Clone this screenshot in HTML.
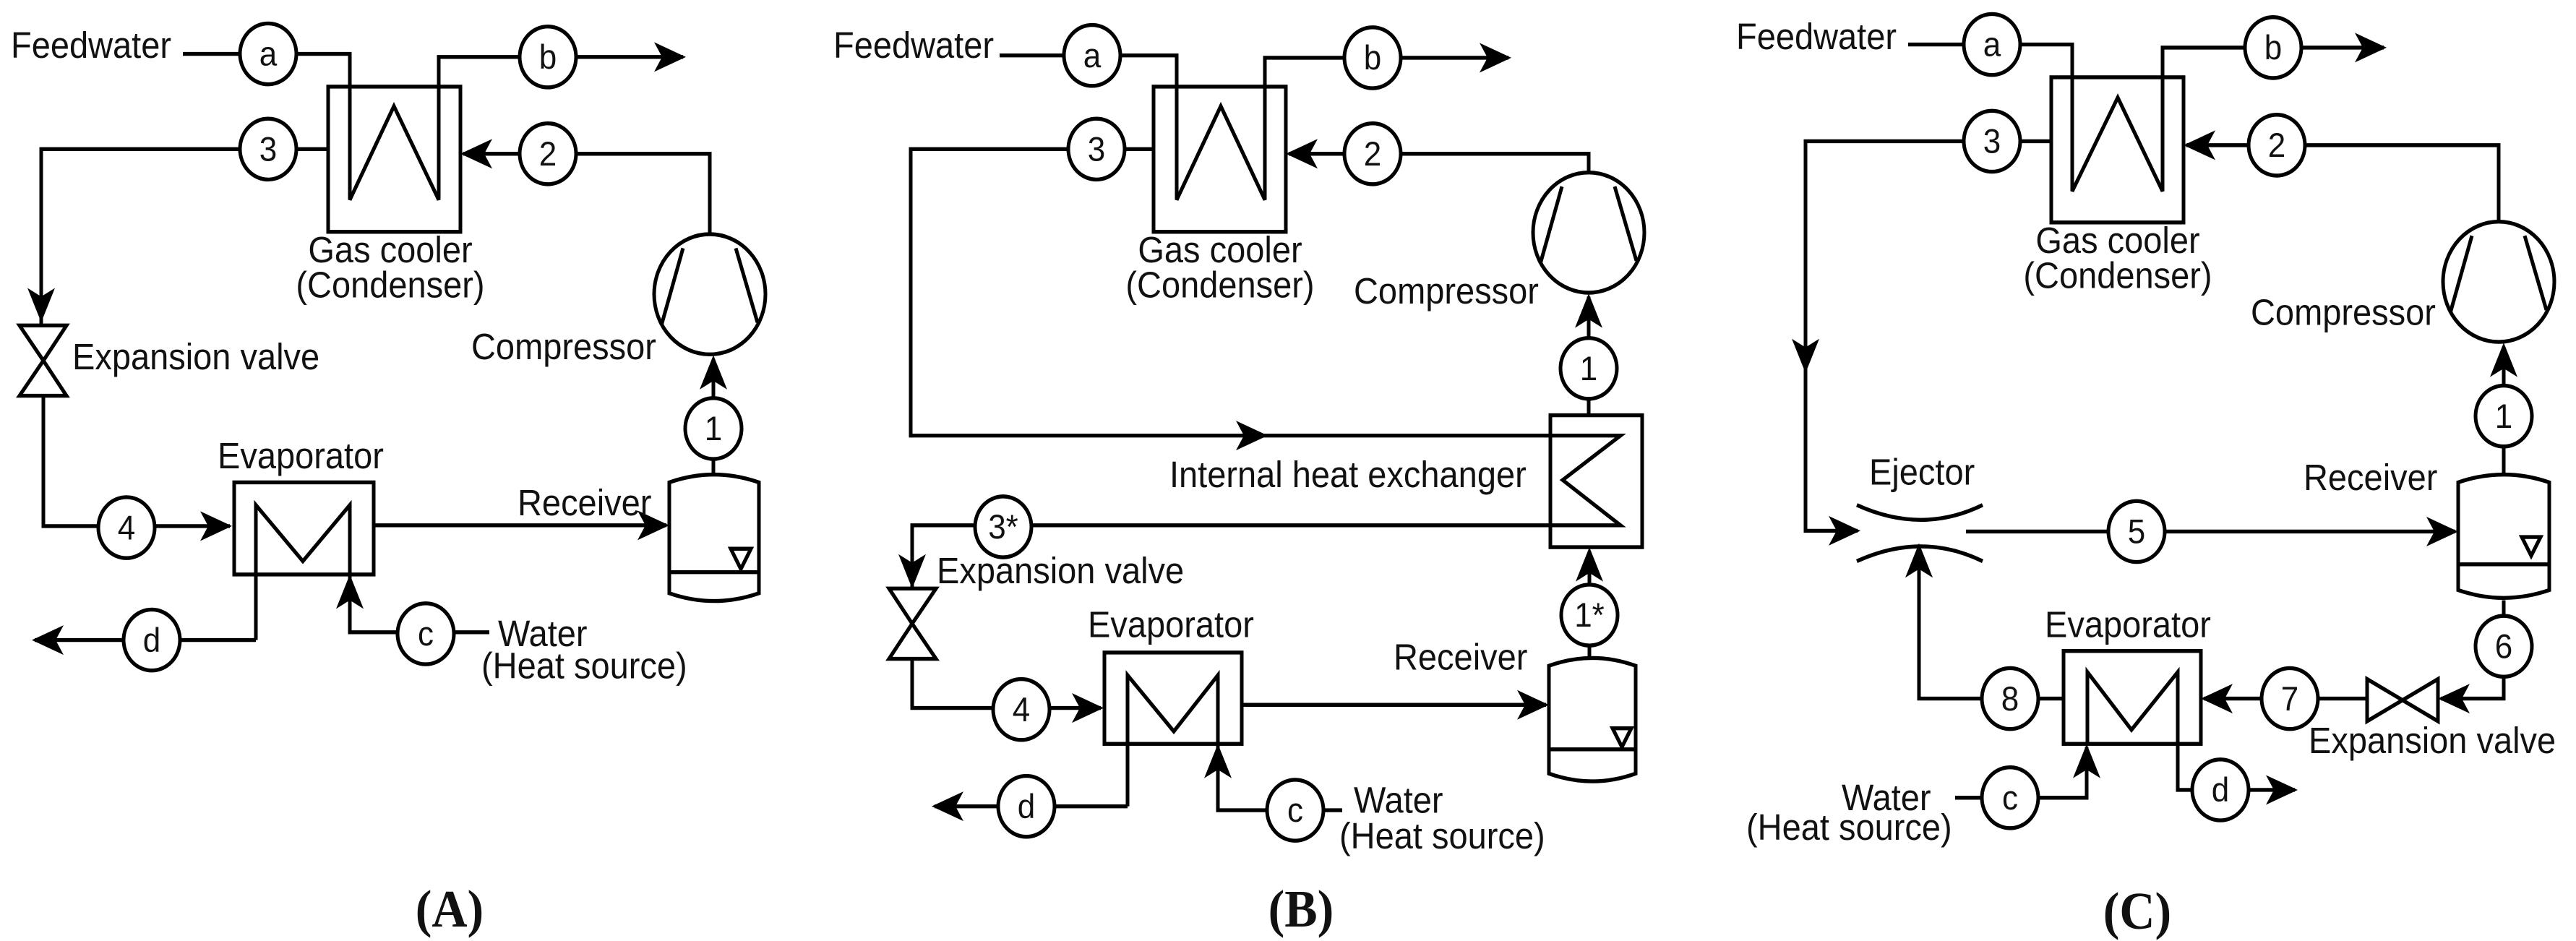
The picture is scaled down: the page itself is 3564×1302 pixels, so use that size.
<!DOCTYPE html>
<html><head><meta charset="utf-8"><style>
html,body{margin:0;padding:0;background:#fff;}
svg{display:block;}
text{font-family:"Liberation Sans",Arial,sans-serif;fill:#111;}
.l{font-size:47px;}
.n{font-size:44px;text-anchor:middle;}
.t{font-family:"Liberation Serif","Times New Roman",serif;font-weight:bold;font-size:68px;text-anchor:middle;}
</style></head><body>
<svg width="3564" height="1302" viewBox="0 0 3564 1302" xmlns="http://www.w3.org/2000/svg">
<defs>
<path id="ar" d="M0,0 L-44,-19 L-33,0 L-44,19 Z" fill="#000"/>
</defs>
<rect width="3564" height="1302" fill="#fff"/>
<g transform="scale(1,1.08)">
<g fill="none" stroke="#000" stroke-width="5" stroke-linejoin="miter">
<!-- ===== A ===== -->
<polyline points="253,69 331,69"/>
<circle cx="371" cy="69" r="39"/>
<polyline points="410,69 484,69 484,256 545,136 607,256 607,73 719,73"/>
<circle cx="758" cy="73" r="39"/>
<polyline points="797,73 945,73"/>
<rect x="454" y="111" width="183" height="186"/>
<polyline points="454,191 410,191"/>
<circle cx="371" cy="191" r="39"/>
<polyline points="332,191 57,191 57,417"/>
<circle cx="758" cy="197" r="39"/>
<polyline points="719,197 641,197"/>
<polyline points="797,197 982,197 982,300"/>
<circle cx="982" cy="377" r="77"/>
<line x1="945" y1="318" x2="915" y2="417"/><line x1="1018" y1="318" x2="1048" y2="413"/>
<polyline points="987,510 987,460"/>
<circle cx="987" cy="549" r="39"/>
<polyline points="987,588 987,610"/>
<path d="M926,618 Q988,598 1050,618 L1050,760 Q988,780 926,760 Z"/>
<line x1="926" y1="733" x2="1050" y2="733"/>
<polygon points="1011,703 1039,703 1025,729"/>
<polygon points="27,417 92,417 60,462"/><polygon points="60,462 27,507 92,507"/>
<polyline points="60,507 60,674 136,674"/>
<circle cx="175" cy="676" r="39"/>
<polyline points="214,674 318,674"/>
<rect x="324" y="618" width="193" height="118"/>
<polyline points="354,820 354,647 419,719 484,647 484,810 550,810"/>
<polyline points="354,820 249,820"/>
<circle cx="210" cy="820" r="39"/>
<polyline points="171,820 48,820"/>
<circle cx="589" cy="812" r="39"/>
<polyline points="628,810 677,810"/>
<polyline points="517,673 922,673"/>
<!-- ===== B ===== -->
<polyline points="1383,71 1472,71"/>
<circle cx="1511" cy="71" r="39"/>
<polyline points="1550,71 1628,71 1628,256 1689,136 1750,256 1750,74 1860,74"/>
<circle cx="1899" cy="74" r="39"/>
<polyline points="1938,74 2087,74"/>
<rect x="1596" y="111" width="183" height="186"/>
<polyline points="1596,191 1556,191"/>
<circle cx="1517" cy="191" r="39"/>
<polyline points="1478,191 1260,191 1260,558 2242,558 2162,615 2242,673 1427,673"/>
<circle cx="1899" cy="197" r="39"/>
<polyline points="1860,197 1783,197"/>
<polyline points="1938,197 2198,197 2198,221"/>
<circle cx="2198" cy="298" r="77"/>
<line x1="2161" y1="239" x2="2131" y2="338"/><line x1="2234" y1="239" x2="2264" y2="334"/>
<polyline points="2198,433 2198,380"/>
<circle cx="2198" cy="472" r="39"/>
<polyline points="2198,511 2198,532"/>
<rect x="2145" y="532" width="127" height="169"/>
<circle cx="1388" cy="675" r="39"/>
<polyline points="1349,673 1262,673 1262,754"/>
<polygon points="1230,754 1295,754 1262,799"/><polygon points="1262,799 1230,844 1295,844"/>
<polyline points="1262,844 1262,907 1374,907"/>
<circle cx="1413" cy="909" r="39"/>
<polyline points="1452,907 1523,907"/>
<rect x="1528" y="836" width="190" height="117"/>
<polyline points="1560,1033 1560,865 1624,937 1685,865 1685,1038 1753,1038"/>
<polyline points="1560,1033 1459,1033"/>
<circle cx="1420" cy="1033" r="39"/>
<polyline points="1381,1033 1293,1033"/>
<circle cx="1792" cy="1038" r="39"/>
<polyline points="1831,1038 1857,1038"/>
<polyline points="1718,903 2139,903"/>
<path d="M2143,853 Q2203,833 2263,853 L2263,991 Q2203,1011 2143,991 Z"/>
<line x1="2143" y1="960" x2="2263" y2="960"/>
<polygon points="2231,933 2257,933 2244,957"/>
<circle cx="2199" cy="788" r="39"/>
<polyline points="2199,827 2199,842"/>
<polyline points="2199,749 2199,706"/>
<!-- ===== C ===== -->
<polyline points="2640,57 2717,57"/>
<circle cx="2756" cy="57" r="39"/>
<polyline points="2795,57 2867,57 2867,245 2930,125 2992,245 2992,61 3106,61"/>
<circle cx="3145" cy="61" r="39"/>
<polyline points="3184,61 3298,61"/>
<rect x="2838" y="99" width="183" height="186"/>
<polyline points="2838,181 2795,181"/>
<circle cx="2756" cy="181" r="39"/>
<polyline points="2717,181 2498,181 2498,680 2570,680"/>
<circle cx="3150" cy="186" r="39"/>
<polyline points="3111,186 3025,186"/>
<polyline points="3189,186 3457,186 3457,284"/>
<circle cx="3457" cy="361" r="77"/>
<line x1="3420" y1="302" x2="3390" y2="401"/><line x1="3493" y1="302" x2="3523" y2="397"/>
<polyline points="3464,494 3464,444"/>
<circle cx="3464" cy="533" r="39"/>
<polyline points="3464,572 3464,610"/>
<path d="M3401,618 Q3464,598 3527,618 L3527,756 Q3464,776 3401,756 Z"/>
<line x1="3401" y1="723" x2="3527" y2="723"/>
<polygon points="3489,688 3515,688 3502,712"/>
<path d="M2569,647 Q2659,685 2743,647"/>
<path d="M2569,719 Q2659,681 2743,719"/>
<polyline points="2720,681 2917,681"/>
<circle cx="2956" cy="681" r="39"/>
<polyline points="2995,681 3397,681"/>
<polyline points="2742,895 2655,895 2655,700"/>
<circle cx="2781" cy="895" r="39"/>
<polyline points="2820,895 2855,895"/>
<rect x="2855" y="834" width="190" height="119"/>
<polyline points="2888,953 2888,861 2949,935 3013,861 3013,1012 3033,1012"/>
<circle cx="3072" cy="1012" r="39"/>
<polyline points="3111,1012 3175,1012"/>
<polyline points="2705,1022 2742,1022"/>
<circle cx="2781" cy="1022" r="39"/>
<polyline points="2820,1022 2887,1022 2887,957"/>
<circle cx="3168" cy="895" r="39"/>
<polyline points="3129,895 3049,895"/>
<polyline points="3207,895 3275,895"/>
<polygon points="3275,870 3275,924 3324,897"/><polygon points="3324,897 3373,870 3373,924"/>
<circle cx="3464" cy="828" r="39"/>
<polyline points="3464,769 3464,789"/>
<polyline points="3464,867 3464,895 3377,895"/>
</g>
<!-- arrowheads -->
<use href="#ar" transform="translate(949,73)"/>
<use href="#ar" transform="translate(57,413) rotate(90)"/>
<use href="#ar" transform="translate(637,197) rotate(180)"/>
<use href="#ar" transform="translate(987,455) rotate(-90)"/>
<use href="#ar" transform="translate(321,674)"/>
<use href="#ar" transform="translate(44,820) rotate(180)"/>
<use href="#ar" transform="translate(484,736) rotate(-90)"/>
<use href="#ar" transform="translate(926,673)"/>

<use href="#ar" transform="translate(2091,74)"/>
<use href="#ar" transform="translate(1779,197) rotate(180)"/>
<use href="#ar" transform="translate(1754,558)"/>
<use href="#ar" transform="translate(2198,376) rotate(-90)"/>
<use href="#ar" transform="translate(1262,754) rotate(90)"/>
<use href="#ar" transform="translate(1527,907)"/>
<use href="#ar" transform="translate(1289,1033) rotate(180)"/>
<use href="#ar" transform="translate(1685,953) rotate(-90)"/>
<use href="#ar" transform="translate(2143,903)"/>
<use href="#ar" transform="translate(2199,701) rotate(-90)"/>

<use href="#ar" transform="translate(3302,61)"/>
<use href="#ar" transform="translate(3021,186) rotate(180)"/>
<use href="#ar" transform="translate(2498,478) rotate(90)"/>
<use href="#ar" transform="translate(2574,680)"/>
<use href="#ar" transform="translate(3464,439) rotate(-90)"/>
<use href="#ar" transform="translate(3401,681)"/>
<use href="#ar" transform="translate(2655,696) rotate(-90)"/>
<use href="#ar" transform="translate(3179,1012)"/>
<use href="#ar" transform="translate(2887,953) rotate(-90)"/>
<use href="#ar" transform="translate(3045,895) rotate(180)"/>
<use href="#ar" transform="translate(3373,895) rotate(180)"/>

<!-- A text -->
<text class="l" x="15" y="74">Feedwater</text>
<text class="n" x="371" y="84">a</text>
<text class="n" x="758" y="88">b</text>
<text class="n" x="371" y="206">3</text>
<text class="n" x="758" y="212">2</text>
<text class="n" x="987" y="564">1</text>
<text class="n" x="175" y="691">4</text>
<text class="n" x="210" y="835">d</text>
<text class="n" x="589" y="827">c</text>
<text class="l" x="540" y="336" text-anchor="middle">Gas cooler</text>
<text class="l" x="540" y="381" text-anchor="middle">(Condenser)</text>
<text class="l" x="652" y="460">Compressor</text>
<text class="l" x="100" y="473">Expansion valve</text>
<text class="l" x="301" y="600">Evaporator</text>
<text class="l" x="716" y="660">Receiver</text>
<text class="l" x="689" y="828">Water</text>
<text class="l" x="666" y="869">(Heat source)</text>
<text class="t" x="622" y="1187">(A)</text>
<!-- B text -->
<text class="l" x="1153" y="74">Feedwater</text>
<text class="n" x="1511" y="86">a</text>
<text class="n" x="1899" y="89">b</text>
<text class="n" x="1517" y="206">3</text>
<text class="n" x="1899" y="212">2</text>
<text class="n" x="2198" y="487">1</text>
<text class="n" x="1388" y="690">3*</text>
<text class="n" x="1413" y="924">4</text>
<text class="n" x="1420" y="1048">d</text>
<text class="n" x="1792" y="1053">c</text>
<text class="n" x="2199" y="803">1*</text>
<text class="l" x="1688" y="336" text-anchor="middle">Gas cooler</text>
<text class="l" x="1688" y="381" text-anchor="middle">(Condenser)</text>
<text class="l" x="1873" y="389">Compressor</text>
<text class="l" x="1618" y="624">Internal heat exchanger</text>
<text class="l" x="1296" y="747">Expansion valve</text>
<text class="l" x="1505" y="816">Evaporator</text>
<text class="l" x="1928" y="858">Receiver</text>
<text class="l" x="1873" y="1041">Water</text>
<text class="l" x="1853" y="1087">(Heat source)</text>
<text class="t" x="1800" y="1187">(B)</text>
<!-- C text -->
<text class="l" x="2402" y="63">Feedwater</text>
<text class="n" x="2756" y="72">a</text>
<text class="n" x="3145" y="76">b</text>
<text class="n" x="2756" y="196">3</text>
<text class="n" x="3150" y="201">2</text>
<text class="n" x="3464" y="548">1</text>
<text class="n" x="2956" y="696">5</text>
<text class="n" x="3464" y="843">6</text>
<text class="n" x="3168" y="910">7</text>
<text class="n" x="2781" y="910">8</text>
<text class="n" x="2781" y="1037">c</text>
<text class="n" x="3072" y="1027">d</text>
<text class="l" x="2930" y="324" text-anchor="middle">Gas cooler</text>
<text class="l" x="2930" y="369" text-anchor="middle">(Condenser)</text>
<text class="l" x="3114" y="416">Compressor</text>
<text class="l" x="2586" y="621">Ejector</text>
<text class="l" x="3187" y="628">Receiver</text>
<text class="l" x="2829" y="816">Evaporator</text>
<text class="l" x="3194" y="965">Expansion valve</text>
<text class="l" x="2548" y="1038">Water</text>
<text class="l" x="2416" y="1076">(Heat source)</text>
<text class="t" x="2957" y="1190">(C)</text>
</g>
</svg>
</body></html>
